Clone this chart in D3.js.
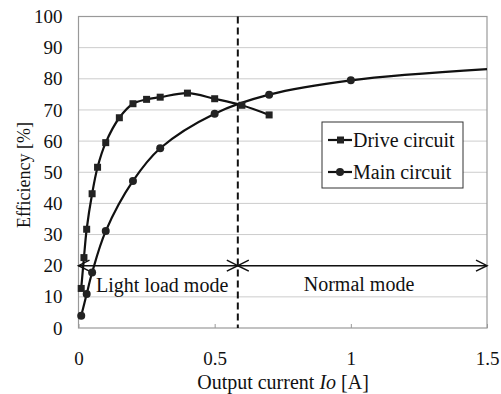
<!DOCTYPE html>
<html><head><meta charset="utf-8">
<script src="https://cdn.jsdelivr.net/npm/d3@7"></script>
<style>
body{margin:0;background:#fff;}
svg text{font-family:"Liberation Serif","Times New Roman","DejaVu Serif",serif !important;fill:#111;}
</style></head>
<body><svg id="c" width="501" height="394"></svg>
<script>
const driveX = [0.01,0.02,0.03,0.05,0.07,0.1,0.15,0.2,0.25,0.3,0.4,0.5,0.6,0.7];
const driveY = [12.7,22.6,31.7,43.1,51.6,59.5,67.5,72.0,73.4,74.1,75.4,73.6,71.5,68.4];
const mainX = [0.01,0.03,0.05,0.1,0.2,0.3,0.5,0.7,1.0,1.5];
const mainY = [3.9,10.9,17.8,31.1,47.2,57.7,68.8,74.9,79.5,83.1];
const mainMarker = [1,1,1,1,1,1,1,1,1,0];
const xTicks = [0,0.5,1,1.5];
const yTicks = [0,10,20,30,40,50,60,70,80,90,100];
const modeBoundary = 0.585;
const arrowLevel = 20;
const modeLabels = ["Light load mode","Normal mode"];
const seriesNames = ["Drive circuit","Main circuit"];

const SERIF = "'Liberation Serif','Times New Roman','DejaVu Serif',serif";
const svg = d3.select("#c");
const L=78.5,R=487,T=16.5,B=328;
const x = d3.scaleLinear().domain([0,1.5]).range([L,R]);
const y = d3.scaleLinear().domain([0,100]).range([B,T]);

// gridlines
svg.append("g").selectAll("line").data(yTicks.filter(d=>d>0&&d<100)).join("line")
  .attr("x1",L).attr("x2",R).attr("y1",d=>y(d)).attr("y2",d=>y(d))
  .attr("stroke","#999").attr("stroke-width",1).attr("stroke-dasharray","1,1");
// border
svg.append("rect").attr("x",L).attr("y",T).attr("width",R-L).attr("height",B-T)
  .attr("fill","none").attr("stroke","#999").attr("stroke-width",1.2);

// axes
const xa = svg.append("g").attr("transform",`translate(0,${B})`)
  .call(d3.axisBottom(x).tickValues(xTicks).tickFormat(d=>d3.format("")(d)).tickSize(-4).tickPadding(24));
xa.attr("font-family",SERIF).attr("font-size",19);
xa.select(".domain").remove();
xa.selectAll("line").attr("stroke","#999");
const ya = svg.append("g").attr("transform",`translate(${L},0)`)
  .call(d3.axisLeft(y).tickValues(yTicks).tickSize(0).tickPadding(16));
ya.attr("font-family",SERIF).attr("font-size",19);
ya.select(".domain").remove();

// boundary dashed line
svg.append("line").attr("x1",x(modeBoundary)).attr("x2",x(modeBoundary)).attr("y1",T).attr("y2",B)
  .attr("stroke","#111").attr("stroke-width",2).attr("stroke-dasharray","7,4");

// arrows
function arrow(x0,x1){
  const yy=y(arrowLevel);
  svg.append("line").attr("x1",x(x0)).attr("x2",x(x1)).attr("y1",yy).attr("y2",yy).attr("stroke","#111").attr("stroke-width",1.5);
  const a=11,h=5.5;
  svg.append("path").attr("d",`M${x(x0)+a},${yy-h}L${x(x0)},${yy}L${x(x0)+a},${yy+h}`).attr("fill","none").attr("stroke","#111").attr("stroke-width",1.5);
  svg.append("path").attr("d",`M${x(x1)-a},${yy-h}L${x(x1)},${yy}L${x(x1)-a},${yy+h}`).attr("fill","none").attr("stroke","#111").attr("stroke-width",1.5);
}
arrow(0,modeBoundary);
arrow(modeBoundary,1.5);
svg.append("text").attr("x",x(0.3)+2).attr("y",y(arrowLevel)+26).attr("text-anchor","middle").attr("font-family",SERIF).style("font-size","20px").text(modeLabels[0]);
svg.append("text").attr("x",x(1.03)).attr("y",y(arrowLevel)+25).attr("text-anchor","middle").attr("font-family",SERIF).style("font-size","20px").text(modeLabels[1]);

// series
const line = d3.line().x(d=>x(d[0])).y(d=>y(d[1])).curve(d3.curveCatmullRom.alpha(0.5));
const dd = driveX.map((v,i)=>[v,driveY[i]]);
const md = mainX.map((v,i)=>[v,mainY[i],mainMarker[i]]);
svg.append("path").attr("d",line(md)).attr("fill","none").attr("stroke","#111").attr("stroke-width",2.2);
svg.append("path").attr("d",line(dd)).attr("fill","none").attr("stroke","#111").attr("stroke-width",2.2);
svg.append("g").selectAll("rect").data(dd).join("rect")
  .attr("x",d=>x(d[0])-3.5).attr("y",d=>y(d[1])-3.5).attr("width",7).attr("height",7).attr("fill","#222");
svg.append("g").selectAll("circle").data(md.filter(d=>d[2])).join("circle")
  .attr("cx",d=>x(d[0])).attr("cy",d=>y(d[1])).attr("r",4).attr("fill","#222");

// legend
const lg = svg.append("g");
lg.append("rect").attr("x",322).attr("y",122).attr("width",141).attr("height",66).attr("fill","#fff").attr("stroke","#333").attr("stroke-width",1);
seriesNames.forEach((n,i)=>{
  const yy = 140 + i*32;
  lg.append("line").attr("x1",328).attr("x2",352).attr("y1",yy).attr("y2",yy).attr("stroke","#111").attr("stroke-width",2.2);
  if(i===0) lg.append("rect").attr("x",337).attr("y",yy-3.5).attr("width",7).attr("height",7).attr("fill","#222");
  else lg.append("circle").attr("cx",340).attr("cy",yy).attr("r",4).attr("fill","#222");
  lg.append("text").attr("x",353).attr("y",yy+6.5).attr("font-family",SERIF).style("font-size","20px").text(n);
});

// axis titles
svg.append("text").attr("transform","translate(30,175) rotate(-90)").attr("text-anchor","middle").attr("font-family",SERIF).style("font-size","18px").text("Efficiency [%]");
const xt = svg.append("text").attr("x",283).attr("y",389).attr("text-anchor","middle").attr("font-family",SERIF).style("font-size","20px");
xt.append("tspan").text("Output current ");
xt.append("tspan").style("font-style","italic").text("Io");
xt.append("tspan").text(" [A]");
</script></body></html>
